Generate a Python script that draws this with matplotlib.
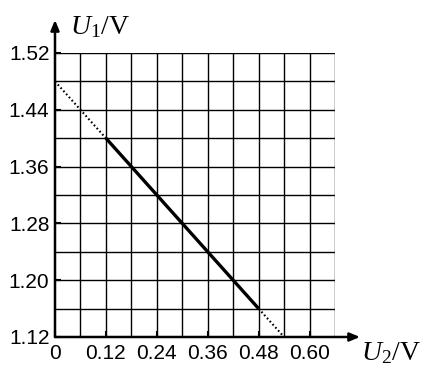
import matplotlib
matplotlib.use("Agg")
import matplotlib.pyplot as plt
import numpy as np

plt.rcParams['mathtext.fontset'] = 'custom'
plt.rcParams['mathtext.it'] = 'Liberation Serif:italic'
plt.rcParams['mathtext.rm'] = 'Liberation Serif'

x_ticks = [0, 0.12, 0.24, 0.36, 0.48, 0.60]
x_tick_labels = ["0", "0.12", "0.24", "0.36", "0.48", "0.60"]
y_ticks = [1.12, 1.20, 1.28, 1.36, 1.44, 1.52]
y_tick_labels = ["1.12", "1.20", "1.28", "1.36", "1.44", "1.52"]
grid_x = [0, 0.06, 0.12, 0.18, 0.24, 0.30, 0.36, 0.42, 0.48, 0.54, 0.60, 0.66]
grid_y = [1.12, 1.16, 1.20, 1.24, 1.28, 1.32, 1.36, 1.40, 1.44, 1.48, 1.52]

solid_x = [0.12, 0.48]
solid_y = [1.40, 1.16]
dot1_x = [0.0, 0.12]
dot1_y = [1.48, 1.40]
dot2_x = [0.48, 0.54]
dot2_y = [1.16, 1.12]

fig = plt.figure(figsize=(4.24, 3.69), dpi=100)
ax = fig.add_axes([55/424, 32/369, 280/424, 284/369])
ax.set_xlim(0, 0.66)
ax.set_ylim(1.12, 1.52)
for s in ax.spines.values():
    s.set_visible(False)

for gx in grid_x[1:]:
    ax.plot([gx, gx], [1.12, 1.52], color='black', lw=1.0, zorder=1)
for gy in grid_y[1:]:
    ax.plot([0, 0.66], [gy, gy], color='black', lw=1.0, zorder=1)

ax.plot(solid_x, solid_y, color='black', lw=2.4, solid_capstyle='butt', zorder=3)
ax.plot(dot1_x, dot1_y, color='black', lw=1.5, linestyle=(0, (0.8, 1.2)), zorder=3)
ax.plot(dot2_x, dot2_y, color='black', lw=1.5, linestyle=(0, (0.8, 1.2)), zorder=3)

ax.set_xticks(x_ticks)
ax.set_xticklabels(x_tick_labels, family='Liberation Sans', fontsize=15)
ax.set_yticks(y_ticks)
ax.set_yticklabels(y_tick_labels, family='Liberation Sans', fontsize=15)
ax.tick_params(axis='both', direction='in', length=4, width=1.5, color='black')
ax.tick_params(axis='x', pad=5)
ax.tick_params(axis='y', pad=4)

# axes with arrows
ax.annotate('', xy=(360/424, 32/369), xytext=(55/424, 32/369), xycoords='figure fraction',
            arrowprops=dict(arrowstyle='-|>,head_length=0.6,head_width=0.25', color='black', lw=1.8, shrinkA=0, shrinkB=0))
ax.annotate('', xy=(55/424, (369-20)/369), xytext=(55/424, 32/369), xycoords='figure fraction',
            arrowprops=dict(arrowstyle='-|>,head_length=0.6,head_width=0.25', color='black', lw=1.8, shrinkA=0, shrinkB=0))

fig.text(70/424, (369-26)/369, r'$U_1/\mathrm{V}$', fontsize=20, ha='left', va='center')
fig.text(421/424, (369-352)/369, r'$U_2/\mathrm{V}$', fontsize=20, ha='right', va='center')

fig.savefig('out.png', dpi=100)
